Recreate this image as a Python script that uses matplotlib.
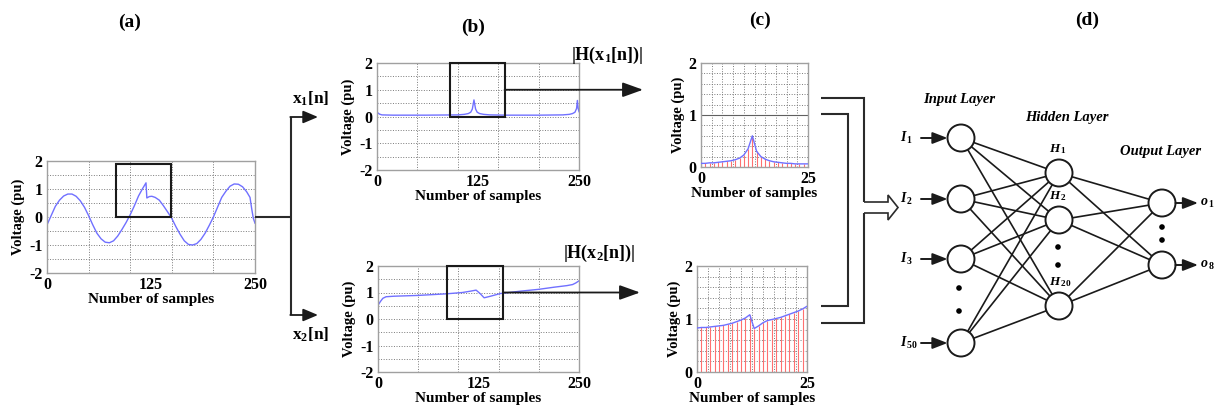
import numpy as np
import matplotlib
matplotlib.use("Agg")
import matplotlib.pyplot as plt
from matplotlib.patches import Rectangle, Circle

plt.rcParams['font.family'] = ['Liberation Serif', 'DejaVu Serif']
plt.rcParams['font.weight'] = 'bold'
plt.rcParams['axes.labelweight'] = 'bold'
plt.rcParams['axes.unicode_minus'] = False
plt.rcParams['mathtext.fontset'] = 'custom'
plt.rcParams['mathtext.rm'] = 'Liberation Serif:bold'
plt.rcParams['mathtext.it'] = 'Liberation Serif:italic:bold'
plt.rcParams['mathtext.bf'] = 'Liberation Serif:bold'

# ---- data ----
# (a) measured voltage signal
a_x = [0, 5, 10, 15, 20, 25, 30, 35, 40, 45, 50, 55, 60, 65, 70, 75, 80, 85, 90, 95,
       100, 105, 110, 115, 119, 120, 123, 126, 130, 135, 140, 145, 150, 155, 160, 165,
       170, 175, 180, 185, 190, 195, 200, 205, 210, 215, 220, 225, 230, 235, 240, 244,
       246, 248, 250]
a_y = [-0.28, 0.05, 0.38, 0.60, 0.75, 0.82, 0.82, 0.74, 0.58, 0.35, 0.05, -0.28, -0.58,
       -0.78, -0.90, -0.92, -0.85, -0.68, -0.45, -0.20, 0.08, 0.40, 0.75, 1.02, 1.22,
       0.68, 0.73, 0.74, 0.70, 0.60, 0.40, 0.18, -0.05, -0.35, -0.62, -0.85, -0.98, -1.00,
       -0.95, -0.80, -0.58, -0.30, 0.00, 0.35, 0.70, 0.92, 1.10, 1.18, 1.17, 1.08, 0.90,
       0.70, 0.30, -0.05, -0.22]

# (b) spectrum magnitudes
b1_x = [0, 3, 6, 20, 60, 100, 108, 113, 116, 118, 120, 122, 124, 127, 132, 140, 160,
        200, 230, 238, 242, 245, 247, 248, 249, 250]
b1_y = [0.16, 0.09, 0.06, 0.05, 0.05, 0.06, 0.08, 0.11, 0.16, 0.28, 0.62, 0.28, 0.16,
        0.11, 0.08, 0.06, 0.05, 0.05, 0.06, 0.08, 0.11, 0.16, 0.30, 0.60, 0.30, 0.18]
b2_x = [0, 3, 6, 10, 20, 50, 85, 105, 115, 122, 127, 132, 140, 152, 177, 200, 219,
        235, 242, 246, 250]
b2_y = [0.52, 0.66, 0.78, 0.84, 0.86, 0.89, 0.95, 1.00, 1.05, 1.09, 0.96, 0.80, 0.86,
        0.96, 1.05, 1.12, 1.20, 1.26, 1.30, 1.36, 1.44]

# (c) zoomed 26 samples
c_n = list(range(26))
c1_y = [0.07, 0.07, 0.08, 0.08, 0.09, 0.10, 0.11, 0.12, 0.14, 0.17, 0.23, 0.35, 0.60,
        0.30, 0.20, 0.15, 0.12, 0.10, 0.09, 0.08, 0.07, 0.07, 0.06, 0.06, 0.06, 0.06]
c2_y = [0.83, 0.84, 0.84, 0.85, 0.86, 0.87, 0.88, 0.90, 0.92, 0.95, 0.98, 1.02, 1.08,
        0.82, 0.87, 0.93, 0.97, 0.99, 1.01, 1.03, 1.06, 1.09, 1.12, 1.15, 1.19, 1.24]

# (d) network labels
input_labels = ['1', '2', '3', '50']
hidden_labels = ['1', '2', '20']
output_labels = ['1', '8']

# ---- layout ----
W, H = 1221, 408
fig = plt.figure(figsize=(W / 100, H / 100), dpi=100)

BLUE = '#7070ff'
RED = '#ff7070'
GRID = '#7a7a7a'
INK = '#1a1a1a'


def add_px_axes(x0, y0, x1, y1):
    return fig.add_axes([x0 / W, 1 - y1 / H, (x1 - x0) / W, (y1 - y0) / H])


def style_axes(ax, xlim, ylim, xticks, yticks, xgrid, ygrid):
    ax.set_xlim(*xlim)
    ax.set_ylim(*ylim)
    ax.set_xticks(xticks)
    ax.set_yticks(yticks)
    ax.tick_params(length=0, pad=3, labelsize=11.5)
    for v in xgrid:
        ax.axvline(v, color=GRID, ls=':', lw=0.7, zorder=0)
    for v in ygrid:
        ax.axhline(v, color=GRID, ls=':', lw=0.7, zorder=0)
    for s in ax.spines.values():
        s.set_color('#a0a0a0')
        s.set_linewidth(1)
    ax.set_xlabel('Number of samples', fontsize=11, labelpad=0)
    ax.set_ylabel('Voltage (pu)', fontsize=10.5, labelpad=3)


def signal_axes(box):
    ax = add_px_axes(*box)
    style_axes(ax, (0, 250), (-2, 2), [0, 125, 250], [-2, -1, 0, 1, 2],
               [50, 100, 150, 200], np.arange(-1.5, 1.6, 0.5))
    return ax


def to_px(ax, x, y):
    dx, dy = ax.transData.transform((x, y))
    return dx, H - dy


# (a)
ax_a = signal_axes((47, 161, 255, 273))
ax_a.plot(a_x, a_y, color=BLUE, lw=1)
ax_a.add_patch(Rectangle((83, 0), 66, 1.88, fill=False, ec=INK, lw=1.5, zorder=5))

# (b)
ax_b1 = signal_axes((377, 63, 579, 170))
ax_b1.plot(b1_x, b1_y, color=BLUE, lw=1)
ax_b1.add_patch(Rectangle((90, 0), 68, 2, fill=False, ec=INK, lw=1.5, zorder=5, clip_on=False))

ax_b2 = signal_axes((378, 266, 579, 372))
ax_b2.plot(b2_x, b2_y, color=BLUE, lw=1)
ax_b2.add_patch(Rectangle((86, 0), 70, 2, fill=False, ec=INK, lw=1.5, zorder=5, clip_on=False))

# (c)
for box, vals, hline in [((701, 63, 808, 167), c1_y, True), ((697, 266, 807, 372), c2_y, False)]:
    ax = add_px_axes(*box)
    style_axes(ax, (0, 25), (0, 2), [0, 25], [0, 1, 2],
               np.arange(2.5, 25, 2.5), np.arange(0.2, 2.0, 0.2))
    if hline:
        ax.axhline(1, color='#606060', lw=0.8, zorder=1)
    ax.vlines(c_n, 0, vals, color=RED, lw=0.8, zorder=2)
    ax.plot(c_n, vals, color=BLUE, lw=1, zorder=3)

# ---- overlay in pixel coordinates ----
ov = fig.add_axes([0, 0, 1, 1], zorder=10)
ov.set_xlim(0, W)
ov.set_ylim(H, 0)
ov.axis('off')
ov.patch.set_alpha(0)


def arrow(p0, p1, hl=0.8, hw=0.35, lw=1.3):
    ov.annotate('', xy=p1, xytext=p0,
                arrowprops=dict(arrowstyle=f'-|>,head_length={hl},head_width={hw}',
                                color=INK, lw=lw, shrinkA=0, shrinkB=0))


def line(xs, ys, lw=1.5):
    ov.plot(xs, ys, color='#2a2a2a', lw=lw, solid_capstyle='butt', solid_joinstyle='miter')


# panel labels
for lab, x, y in [('(a)', 130, 22), ('(b)', 473, 27), ('(c)', 760, 20), ('(d)', 1087, 20)]:
    ov.text(x, y, lab, fontsize=14, ha='center', va='center')

# (a) -> (b)
ax0, ay0 = to_px(ax_a, 250, 0)
line([ax0, 291], [ay0, ay0])
line([291, 291], [117, 315])
arrow((290.3, 117), (318, 117), hl=0.9, hw=0.38)
arrow((290.3, 315), (318, 315), hl=0.9, hw=0.38)
ov.text(292, 99, r'$\mathrm{x_1[n]}$', fontsize=12.5, ha='left', va='center')
ov.text(292, 335, r'$\mathrm{x_2[n]}$', fontsize=12.5, ha='left', va='center')

# (b) -> (c)
bx, by = to_px(ax_b1, 158, 1)
arrow((bx, by), (643, by), hl=1.25, hw=0.45)
bx, by = to_px(ax_b2, 156, 1)
arrow((bx, by), (640, by), hl=1.25, hw=0.45)
ov.text(643, 55, r'$\mathrm{|H(x_1[n])|}$', fontsize=13, ha='right', va='center')
ov.text(635, 253, r'$\mathrm{|H(x_2[n])|}$', fontsize=13, ha='right', va='center')

# (c) -> (d)
line([821, 864, 864], [98, 98, 202])
line([821, 848, 848, 821], [114, 114, 306, 306])
line([821, 864, 864], [323, 323, 213])
line([864, 888, 888, 898, 888, 888, 864], [202, 202, 195, 207.5, 220, 213, 213], lw=1.2)

# (d) neural network
R = 13.5
in_x, in_y = 961, [138, 199, 259, 343]
hid_x, hid_y = 1059, [173, 220, 306]
out_x, out_y = 1162, [203, 265]

for yi in in_y:
    for yh in hid_y:
        ov.plot([in_x, hid_x], [yi, yh], color=INK, lw=1.2, zorder=1)
for yh in hid_y:
    for yo in out_y:
        ov.plot([hid_x, out_x], [yh, yo], color=INK, lw=1.2, zorder=1)

for x, ys in [(in_x, in_y), (hid_x, hid_y), (out_x, out_y)]:
    for y in ys:
        ov.add_patch(Circle((x, y), R, fc='white', ec=INK, lw=1.4, zorder=3))

for x, ys in [(959, [288, 311]), (1058, [247, 265]), (1162, [227, 240])]:
    for y in ys:
        ov.add_patch(Circle((x, y), 2.8, fc='black', ec='none', zorder=4))

for lab, y in zip(input_labels, in_y):
    ov.text(900, y, rf'$I_{{\,\mathit{{{lab}}}}}$', fontsize=10, ha='left', va='center')
    arrow((921, y), (in_x - R, y), hl=0.9, hw=0.35, lw=1.4)
for lab, y in zip(output_labels, out_y):
    arrow((out_x + R, y), (1198, y), hl=0.9, hw=0.35, lw=1.4)
    ov.text(1200, y, rf'$o_{{\,\mathit{{{lab}}}}}$', fontsize=10, ha='left', va='center')
for lab, y in zip(hidden_labels, [149, 196, 282]):
    ov.text(1049, y, rf'$H_{{\,\mathit{{{lab}}}}}$', fontsize=9.5, ha='left', va='center')

for lab, x, y in [('Input Layer', 959, 99), ('Hidden Layer', 1067, 118), ('Output Layer', 1161, 151)]:
    ov.text(x, y, lab, fontsize=10.5, style='italic', ha='center', va='center')

fig.savefig('out.png', dpi=100)
